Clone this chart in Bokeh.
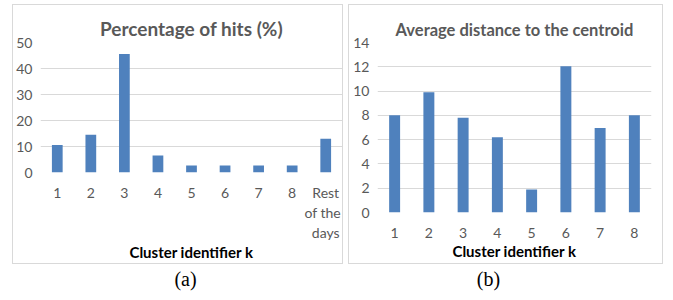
from bokeh.plotting import figure
from bokeh.models import (Label, Range1d, FactorRange, ColumnDataSource, FixedTicker,
                          LinearAxis)
from bokeh.layouts import row, column
from bokeh.embed import file_html
from bokeh.resources import INLINE

# ---- data ----
clusters_a = ["1", "2", "3", "4", "5", "6", "7", "8", "Rest of the days"]
rest_label_lines = ["Rest", "of the", "days"]
hits_pct = [10.6, 14.5, 45.6, 6.5, 2.7, 2.7, 2.7, 2.7, 13.0]
yticks_a = [0, 10, 20, 30, 40, 50]

clusters_b = ["1", "2", "3", "4", "5", "6", "7", "8"]
avg_dist = [8.0, 9.9, 7.8, 6.2, 1.9, 12.05, 6.95, 8.0]
yticks_b = [0, 2, 4, 6, 8, 10, 12, 14]

title_a = "Percentage of hits (%)"
title_b = "Average distance to the centroid"
xlabel = "Cluster identifier k"
caption = "Figure 3 :  Percentage of hits and average Hamming distance"

FONT = "Lato"
BAR = "#4f81bd"
GRID = "#d9d9d9"
GREY = "#595959"
H = 260


def style_axis(ax, standoff):
    ax.axis_line_color = None
    ax.major_tick_line_color = None
    ax.minor_tick_line_color = None
    ax.major_tick_out = 0
    ax.major_tick_in = 0
    ax.minor_tick_out = 0
    ax.minor_tick_in = 0
    ax.major_label_text_font = FONT
    ax.major_label_text_font_size = "14px"
    ax.major_label_text_color = GREY
    ax.major_label_standoff = standoff


def style_xlabel(ax, standoff):
    ax.axis_label = xlabel
    ax.axis_label_text_font = FONT
    ax.axis_label_text_font_style = "bold"
    ax.axis_label_text_font_size = "15px"
    ax.axis_label_text_color = "black"
    ax.axis_label_standoff = standoff


def base(x_range, ymax, ticks, title, tsize, width, mbl, mbr, mbb):
    p = figure(x_range=x_range, y_range=Range1d(0, ymax),
               width=width, height=H, title=title,
               output_backend="svg", toolbar_location=None,
               min_border_left=mbl, min_border_right=mbr,
               min_border_top=37, min_border_bottom=mbb,
               styles={"border": "1px solid #d9d9d9", "box-sizing": "border-box"})
    p.outline_line_color = None
    p.xgrid.grid_line_color = None
    p.ygrid.grid_line_color = GRID
    p.ygrid.level = "underlay"
    p.yaxis.ticker = FixedTicker(ticks=ticks)
    style_axis(p.yaxis[0], 8)
    p.title.align = "center"
    p.title.text_font = FONT
    p.title.text_font_style = "bold"
    p.title.text_font_size = tsize
    p.title.text_color = GREY
    p.title.standoff = 6
    return p


# ---- panel (a) ----
xpos_a = list(range(1, len(clusters_a) + 1))
p1 = base(Range1d(0.5, len(clusters_a) + 0.5), 50, yticks_a, title_a, "19px", 331, 27, 2, 93)
p1.vbar(x=xpos_a, top=hits_pct, width=0.32, fill_color=BAR, line_color=None)
ax1 = p1.xaxis[0]
style_axis(ax1, 11)
ax1.ticker = FixedTicker(ticks=xpos_a)
ovr = {xpos_a[i]: clusters_a[i] for i in range(len(clusters_a) - 1)}
ovr[xpos_a[-1]] = rest_label_lines[0]
ax1.major_label_overrides = ovr
for j, line in enumerate(rest_label_lines[1:]):
    ax = LinearAxis(ticker=FixedTicker(ticks=[xpos_a[-1]]),
                    major_label_overrides={xpos_a[-1]: line})
    style_axis(ax, 0)
    if j == 1:
        style_xlabel(ax, -1)
    p1.add_layout(ax, "below")

# ---- panel (b) ----
p2 = base(FactorRange(*clusters_b), 14, yticks_b, title_b, "16.5px", 315, 28, 13, 53)
src_b = ColumnDataSource(dict(x=clusters_b, top=avg_dist))
p2.vbar(x="x", top="top", width=0.32, source=src_b, fill_color=BAR, line_color=None)
style_axis(p2.xaxis[0], 15)
style_xlabel(p2.xaxis[0], 1)

# ---- captions ----
cap = figure(width=661, height=36, output_backend="svg", toolbar_location=None,
             x_axis_type=None, y_axis_type=None, min_border=0,
             x_range=Range1d(0, 1), y_range=Range1d(0, 1))
cap.outline_line_color = None
cap.grid.visible = False
for txt, xx in (("(a)", 173), ("(b)", 476)):
    cap.add_layout(Label(x=xx, y=22, x_units="screen", y_units="screen", text=txt,
                         text_font="Liberation Serif", text_font_size="20px",
                         text_align="center", text_baseline="middle", text_color="black"))
cap.add_layout(Label(x=38, y=-10, x_units="screen", y_units="screen", text=caption,
                     text_font="Liberation Serif", text_font_size="20px",
                     text_align="left", text_baseline="alphabetic", text_color="black"))

layout = column(row(column(p1), column(p2), spacing=5), cap, spacing=0,
                margin=(4, 0, 0, 12))

open("out.html", "w").write(file_html(layout, INLINE))
